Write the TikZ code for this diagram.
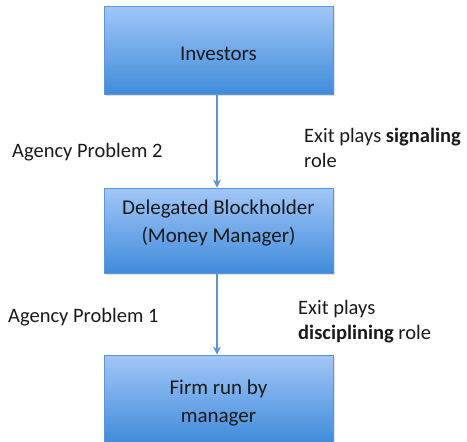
\documentclass[tikz,border=0pt]{standalone}
\usepackage{fontspec}
\setmainfont{Carlito}
\usetikzlibrary{arrows.meta}
\definecolor{boxtop}{HTML}{A2C6F8}
\definecolor{boxbot}{HTML}{3F8CDA}
\definecolor{boxline}{HTML}{5F95D6}
\definecolor{arrowc}{HTML}{5B96D2}
\definecolor{txt}{HTML}{1A1A1A}
\begin{document}
\begin{tikzpicture}[x=1pt,y=-1pt,
  blbox/.style={draw=boxline,line width=0.8pt,top color=boxtop,bottom color=boxbot,
    minimum width=229pt,inner sep=0pt},
  btxt/.style={align=center,inner sep=0pt,font=\fontsize{21}{28}\selectfont,text=txt},
  lbl/.style={anchor=west,align=left,inner sep=0pt,font=\fontsize{20.5}{25}\selectfont,text=txt},
  conn/.style={draw=arrowc,line width=1.8pt,-{Stealth[length=8pt,width=8pt]}}]
\useasboundingbox (0,0) rectangle (467,442);
\fill[black!12] (106,8) rectangle (335,96);
\fill[black!12] (106,190) rectangle (335,275);
\fill[black!12] (106,357) rectangle (335,444);
\node[blbox,minimum height=88pt] (inv) at (218.5,50) {};
\node[blbox,minimum height=85pt] (del) at (218.5,230.5) {};
\node[blbox,minimum height=88pt] (firm) at (218.5,399) {};
\node[btxt] (invt) at (218.5,54) {Investors};
\node[btxt] (delt) at (218.5,223) {Delegated Blockholder\\(Money Manager)};
\node[btxt] (firmt) at (218.5,403) {Firm run by\\manager};
\draw[conn] (inv.south -| 217,0) -- (del.north -| 217,0);
\draw[conn] (del.south -| 217,0) -- (firm.north -| 217,0);
\node[lbl] (ap2) at (12,152) {Agency Problem 2};
\node[lbl] (sig) at (304,147.5) {Exit plays \textbf{signaling}\\role};
\node[lbl] (ap1) at (8,317) {Agency Problem 1};
\node[lbl] (dis) at (298,322) {Exit plays\\\textbf{disciplining} role};
\end{tikzpicture}
\end{document}
